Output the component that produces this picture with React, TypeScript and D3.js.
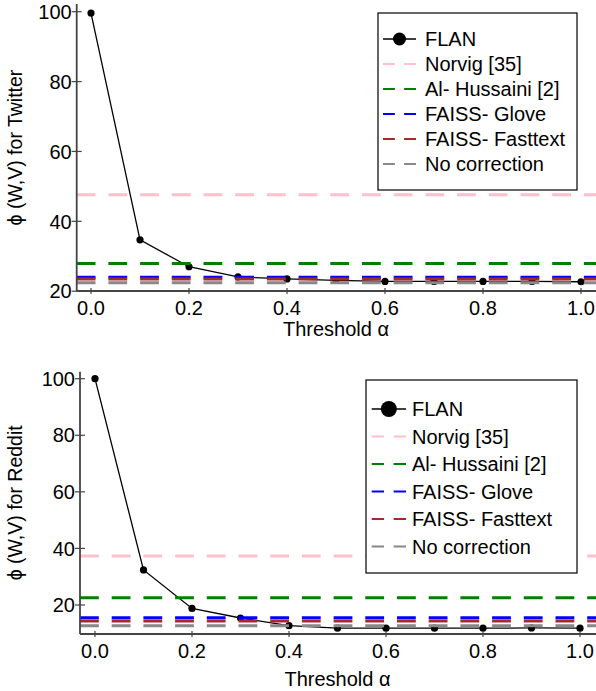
import React from "react";
import * as d3 from "d3";

const thresholds = [0, 0.1, 0.2, 0.3, 0.4, 0.5, 0.6, 0.7, 0.8, 0.9, 1.0];
const flanTwitter = [99.6, 34.7, 27.0, 24.1, 23.5, 23.1, 22.8, 22.8, 22.8, 22.8, 22.7];
const flanReddit = [100, 32.4, 18.8, 15.4, 12.7, 11.8, 11.8, 11.8, 11.8, 11.9, 11.8];

const baselineNames = ["Norvig [35]", "Al- Hussaini [2]", "FAISS- Glove", "FAISS- Fasttext", "No correction"];
const baselineColors = ["#ffc0cb", "#008000", "#0000ff", "#a52a2a", "#888888"];
const baselineTwitter = [47.6, 27.9, 24.0, 23.5, 22.4];
const baselineReddit = [37.3, 22.6, 15.5, 14.3, 12.7];

const xTicks = [0, 0.2, 0.4, 0.6, 0.8, 1.0];
const yTicks = [20, 40, 60, 80, 100];

const FONT = "'Liberation Sans', Arial, Helvetica, sans-serif";
const AXIS_COLOR = "#444";
const FS = 20;

type PanelProps = {
  flan: number[];
  baselines: number[];
  yLabel: string;
  xRange: [number, number];
  yRange: [number, number];
  axisLeft: number;
  axisBottom: number;
  axisTop: number;
  axisRight: number;
  xTickBaseline: number;
  xTitleBaseline: number;
  yTitleX: number;
  legend: { x: number; y: number; w: number; h: number; row0: number; rowStep: number; sampleX0: number; sampleX1: number; textX: number; dotR: number };
};

function Panel(p: PanelProps) {
  const x = d3.scaleLinear().domain([0, 1]).range(p.xRange);
  const y = d3.scaleLinear().domain([20, 100]).range(p.yRange);
  const line = d3
    .line<number>()
    .x((_, i) => x(thresholds[i]))
    .y((d) => y(d));
  const yMid = (p.axisTop + p.axisBottom) / 2;
  const lg = p.legend;
  return (
    <g fontFamily={FONT}>
      <path d={line(p.flan) || ""} fill="none" stroke="#000" strokeWidth={1.3} />
      {p.flan.map((v, i) => (
        <circle key={i} cx={x(thresholds[i])} cy={y(v)} r={3.6} fill="#000" />
      ))}
      {p.baselines.map((v, i) => (
        <line
          key={i}
          x1={p.axisLeft}
          x2={p.axisRight}
          y1={y(v)}
          y2={y(v)}
          stroke={baselineColors[i]}
          strokeWidth={3}
          strokeDasharray="18.8 12.9"
        />
      ))}
      <line x1={p.axisLeft} x2={p.axisLeft} y1={p.axisTop} y2={p.axisBottom} stroke={AXIS_COLOR} strokeWidth={1.8} />
      <line x1={p.axisLeft} x2={p.axisRight} y1={p.axisBottom} y2={p.axisBottom} stroke={AXIS_COLOR} strokeWidth={1.8} />
      {yTicks.map((t) => (
        <g key={t}>
          <line x1={p.axisLeft - 5} x2={p.axisLeft + 5} y1={y(t)} y2={y(t)} stroke={AXIS_COLOR} strokeWidth={1.2} />
          <text x={p.axisLeft - 5} y={y(t)} dy="0.36em" textAnchor="end" fontSize={FS} fill="#000">
            {t}
          </text>
        </g>
      ))}
      {xTicks.map((t) => (
        <g key={t}>
          <line x1={x(t)} x2={x(t)} y1={p.axisBottom - 3} y2={p.axisBottom + 3} stroke={AXIS_COLOR} strokeWidth={1.2} />
          <text x={x(t)} y={p.xTickBaseline} textAnchor="middle" fontSize={FS} fill="#000">
            {d3.format(".1f")(t)}
          </text>
        </g>
      ))}
      <text x={(p.xRange[0] + p.xRange[1]) / 2} y={p.xTitleBaseline} textAnchor="middle" fontSize={FS} fill="#000">
        Threshold α
      </text>
      <text
        transform={`translate(${p.yTitleX},${yMid}) rotate(-90)`}
        textAnchor="middle"
        fontSize={19.5}
        fill="#000"
      >
        {p.yLabel}
      </text>
      <rect x={lg.x} y={lg.y} width={lg.w} height={lg.h} fill="#fff" stroke="#000" strokeWidth={1.2} />
      <line x1={lg.sampleX0} x2={lg.sampleX1} y1={lg.row0} y2={lg.row0} stroke="#000" strokeWidth={1.5} />
      <circle cx={(lg.sampleX0 + lg.sampleX1) / 2} cy={lg.row0} r={lg.dotR} fill="#000" />
      <text x={lg.textX} y={lg.row0} dy="0.36em" fontSize={FS} fill="#000">
        FLAN
      </text>
      {baselineNames.map((name, i) => {
        const ry = lg.row0 + (i + 1) * lg.rowStep;
        const w = lg.sampleX1 - lg.sampleX0;
        const dash = w * 0.36;
        const gap = w - 2 * dash;
        return (
          <g key={name}>
            <line
              x1={lg.sampleX0}
              x2={lg.sampleX1}
              y1={ry}
              y2={ry}
              stroke={baselineColors[i]}
              strokeWidth={2}
              strokeDasharray={`${dash} ${gap}`}
            />
            <text x={lg.textX} y={ry} dy="0.36em" fontSize={FS} fill="#000">
              {name}
            </text>
          </g>
        );
      })}
    </g>
  );
}

export default function App() {
  return (
    <svg
      width={596}
      height={691}
      viewBox="0 0 596 691"
      style={{ position: "absolute", left: 0, top: 0, background: "#fff" }}
    >
      <rect width={596} height={691} fill="#fff" />
      <Panel
        flan={flanTwitter}
        baselines={baselineTwitter}
        yLabel="ϕ (W,V) for Twitter"
        xRange={[91, 581]}
        yRange={[291.2, 11.7]}
        axisLeft={76.7}
        axisBottom={291}
        axisTop={4}
        axisRight={596}
        xTickBaseline={315}
        xTitleBaseline={336}
        yTitleX={22}
        legend={{ x: 378, y: 13, w: 199, h: 177, row0: 39, rowStep: 25, sampleX0: 383, sampleX1: 416, textX: 425, dotR: 6.5 }}
      />
      <Panel
        flan={flanReddit}
        baselines={baselineReddit}
        yLabel="ϕ (W,V) for Reddit"
        xRange={[95, 580]}
        yRange={[605, 378.7]}
        axisLeft={80}
        axisBottom={634}
        axisTop={371.7}
        axisRight={596}
        xTickBaseline={658}
        xTitleBaseline={686}
        yTitleX={22}
        legend={{ x: 366, y: 380, w: 211, h: 193, row0: 409, rowStep: 27.5, sampleX0: 371.7, sampleX1: 406, textX: 412, dotR: 8 }}
      />
    </svg>
  );
}
